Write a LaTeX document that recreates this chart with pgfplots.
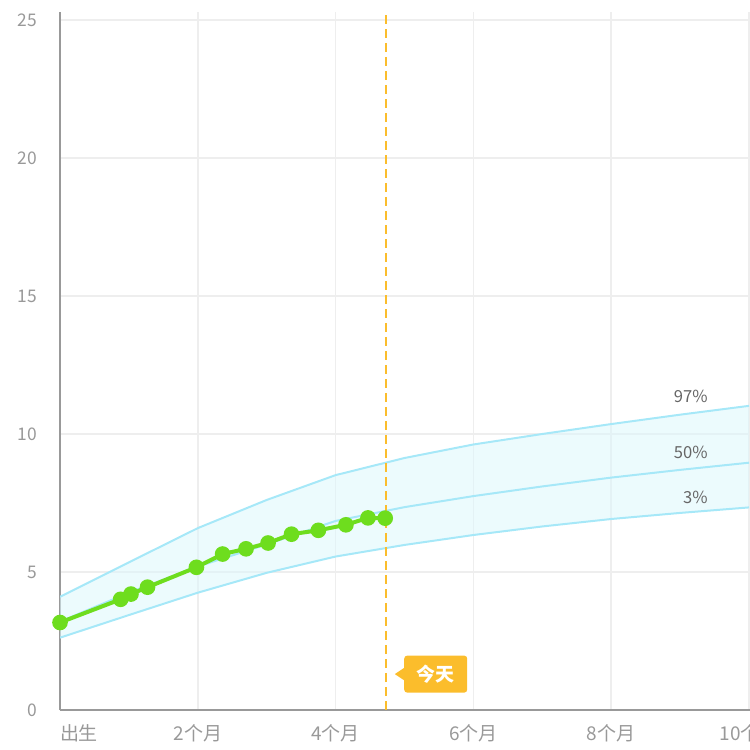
\documentclass[border=0pt]{standalone}
\usepackage{pgfplots}
\pgfplotsset{compat=1.18}
\usepgfplotslibrary{fillbetween}
\usepackage{fontspec}
\setmainfont{Noto Sans CJK SC}
\definecolor{gridc}{HTML}{EEEEEE}
\definecolor{axisc}{HTML}{999999}
\definecolor{tickc}{HTML}{999999}
\definecolor{bandline}{HTML}{A6E8F8}
\definecolor{bandfill}{HTML}{DDF7FC}
\definecolor{greenc}{HTML}{6EDD1E}
\definecolor{orangec}{HTML}{FBBD2C}
\definecolor{pctc}{HTML}{666666}

\pgfplotstableread{
m p97 p50 p3
0 4.10 3.20 2.62
1 5.35 4.25 3.44
2 6.59 5.20 4.25
3 7.61 6.00 4.97
4 8.51 6.85 5.56
5 9.13 7.35 5.98
6 9.62 7.75 6.34
7 10.00 8.10 6.65
8 10.36 8.42 6.92
9 10.70 8.70 7.14
10 11.02 8.96 7.34
}\pct

\begin{document}
\begin{tikzpicture}
\begin{axis}[
  x=34.45pt, y=13.8pt,
  xmin=0, xmax=10.3, ymin=0, ymax=25.3,
  axis lines=left,
  axis line style={-, draw=axisc, line width=1.2pt},
  xtick={0,2,4,6,8,10},
  xticklabels={\makebox[0pt][l]{出生},2个月,4个月,6个月,8个月,10个月},
  ytick={0,5,10,15,20,25},
  major tick length=0pt,
  tick style={draw=none},
  grid=major,
  major grid style={draw=gridc, line width=0.8pt},
  /pgf/number format/assume math mode=true,
  yticklabel style={font=\fontsize{8.7}{9}\selectfont, text=tickc, xshift=-8pt},
  xticklabel style={font=\fontsize{9.5}{10}\selectfont, text=tickc, yshift=-3.5pt},
]
\addplot[name path=top, draw=bandline, line width=1pt] table[x=m, y=p97] {\pct};
\addplot[name path=bot, draw=bandline, line width=1pt] table[x=m, y=p3] {\pct};
\addplot[fill=bandfill, fill opacity=0.55, draw=none] fill between[of=top and bot];
\addplot[draw=bandline, line width=1pt] table[x=m, y=p50] {\pct};

\addplot[draw=greenc, line width=2pt, mark=*, mark size=2.9pt, mark options={fill=greenc, draw=greenc}] coordinates {
(0,3.17) (0.88,4.01) (1.03,4.20) (1.27,4.45) (1.98,5.17) (2.36,5.65) (2.70,5.84)
(3.02,6.05) (3.36,6.37) (3.75,6.51) (4.15,6.71) (4.47,6.96) (4.72,6.95)
};

\addplot[draw=orangec, line width=1pt, dash pattern=on 4.5pt off 2.5pt] coordinates {(4.73,0) (4.73,25.3)};

\node[anchor=east, inner sep=0pt, text=pctc, font=\fontsize{8.3}{9}\selectfont, yshift=7.3pt] at (axis cs:9.405,10.83) {97\%};
\node[anchor=east, inner sep=0pt, text=pctc, font=\fontsize{8.3}{9}\selectfont, yshift=7pt] at (axis cs:9.405,8.81) {50\%};
\node[anchor=east, inner sep=0pt, text=pctc, font=\fontsize{8.3}{9}\selectfont, yshift=6.5pt] at (axis cs:9.405,7.22) {3\%};

\node[fill=orangec, text=white, rounded corners=1.5pt, minimum width=31.5pt, minimum height=18.5pt, inner sep=0pt, anchor=west, font=\fontsize{9.5}{10}\selectfont\bfseries] (today) at (axis cs:4.99,1.30) {今天};
\fill[orangec] (today.west) ++(0,3pt) -- ++(-4.5pt,-3pt) -- ++(4.5pt,-3pt) -- cycle;
\end{axis}
\pgfresetboundingbox
\useasboundingbox (-30pt,-20pt) rectangle (345pt,355pt);
\end{tikzpicture}
\end{document}
